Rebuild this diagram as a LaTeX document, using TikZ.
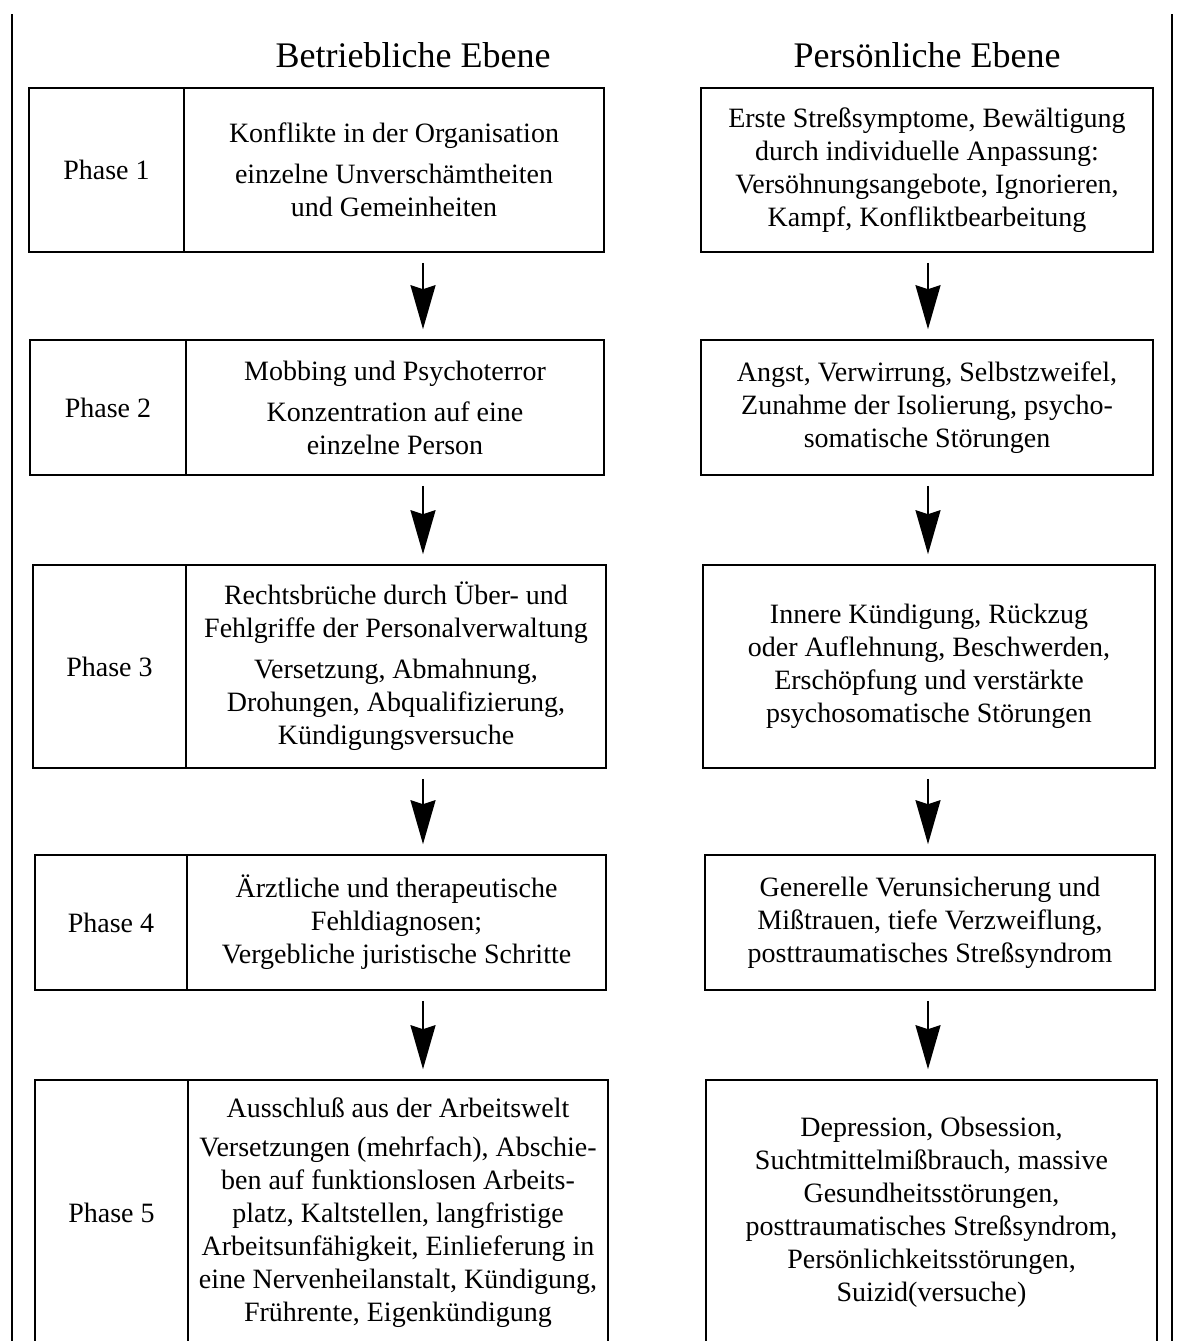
\documentclass[tikz,border=0pt]{standalone}
\usepackage{fontspec}
\setmainfont{Liberation Serif}
\usetikzlibrary{arrows.meta}
\begin{document}
\begin{tikzpicture}[x=1pt,y=-1pt,
  box/.style={draw, line width=1.6pt, inner sep=0pt, align=center,
    font=\fontsize{28}{33}\selectfont},
  headline/.style={font=\fontsize{36}{40}\selectfont},
  frame/.style={line width=2pt},
  flow/.style={line width=2pt, shorten <=10pt, shorten >=10pt,
    -{Stealth[width=25pt,length=44pt,inset=4pt]}}]
\clip (0,0) rectangle (1181,1341);
\fill[white] (0,0) rectangle (1181,1341);
% page frame lines
\draw[frame] (12,14) -- (12,1360);
\draw[frame] (1172,14) -- (1172,1360);
% headings
\node[headline] (hl) at (413,55) {Betriebliche Ebene};
\node[headline] (hr) at (927,55) {Persönliche Ebene};
% arrow axes
\coordinate (axl) at (423,0);
\coordinate (axr) at (928,0);
% Row 1
\node[box, minimum width=155pt, minimum height=164pt] (ph1) at (106.5,170) {Phase 1};
\node[box, minimum width=420pt, minimum height=164pt] (b1) at (394,170)
  {Konflikte in der Organisation\\[8pt] einzelne Unverschämtheiten\\ und Gemeinheiten};
\node[box, minimum width=452pt, minimum height=164pt] (p1) at (927,170)
  {Erste Streßsymptome, Bewältigung\\ durch individuelle Anpassung:\\ Versöhnungsangebote, Ignorieren,\\ Kampf, Konfliktbearbeitung};
% Row 2
\node[box, minimum width=156pt, minimum height=135pt] (ph2) at (108,407.5) {Phase 2};
\node[box, minimum width=418pt, minimum height=135pt] (b2) at (395,407.5)
  {Mobbing und Psychoterror\\[8pt] Konzentration auf eine\\ einzelne Person};
\node[box, minimum width=452pt, minimum height=135pt] (p2) at (927,407.5)
  {Angst, Verwirrung, Selbstzweifel,\\ Zunahme der Isolierung, psycho-\\ somatische Störungen};
% Row 3
\node[box, minimum width=153pt, minimum height=203pt] (ph3) at (109.5,666.5) {Phase 3};
\node[box, minimum width=420pt, minimum height=203pt] (b3) at (396,666.5)
  {Rechtsbrüche durch Über- und\\ Fehlgriffe der Personalverwaltung\\[8pt] Versetzung, Abmahnung,\\ Drohungen, Abqualifizierung,\\ Kündigungsversuche};
\node[box, minimum width=452pt, minimum height=203pt] (p3) at (929,666.5)
  {Innere Kündigung, Rückzug\\ oder Auflehnung, Beschwerden,\\ Erschöpfung und verstärkte\\ psychosomatische Störungen};
% Row 4
\node[box, minimum width=152pt, minimum height=135pt] (ph4) at (111,922.5) {Phase 4};
\node[box, minimum width=419pt, minimum height=135pt] (b4) at (396.5,922.5)
  {Ärztliche und therapeutische\\ Fehldiagnosen;\\ Vergebliche juristische Schritte};
\node[box, minimum width=450pt, minimum height=135pt] (p4) at (930,922.5)
  {Generelle Verunsicherung und\\ Mißtrauen, tiefe Verzweiflung,\\ posttraumatisches Streßsyndrom};
% Row 5
\node[box, minimum width=153pt, minimum height=265pt] (ph5) at (111.5,1212.5) {Phase 5};
\node[box, minimum width=420pt, minimum height=265pt] (b5) at (398,1212.5)
  {Ausschluß aus der Arbeitswelt\\[6pt] Versetzungen (mehrfach), Abschie-\\ ben auf funktionslosen Arbeits-\\ platz, Kaltstellen, langfristige\\ Arbeitsunfähigkeit, Einlieferung in\\ eine Nervenheilanstalt, Kündigung,\\ Frührente, Eigenkündigung};
\node[box, minimum width=451pt, minimum height=265pt] (p5) at (931.5,1212.5)
  {Depression, Obsession,\\ Suchtmittelmißbrauch, massive\\ Gesundheitsstörungen,\\ posttraumatisches Streßsyndrom,\\ Persönlichkeitsstörungen,\\ Suizid(versuche)};
% arrows
\draw[flow] (b1.south -| axl) -- (b2.north -| axl);
\draw[flow] (b2.south -| axl) -- (b3.north -| axl);
\draw[flow] (b3.south -| axl) -- (b4.north -| axl);
\draw[flow] (b4.south -| axl) -- (b5.north -| axl);
\draw[flow] (p1.south -| axr) -- (p2.north -| axr);
\draw[flow] (p2.south -| axr) -- (p3.north -| axr);
\draw[flow] (p3.south -| axr) -- (p4.north -| axr);
\draw[flow] (p4.south -| axr) -- (p5.north -| axr);
\end{tikzpicture}
\end{document}
